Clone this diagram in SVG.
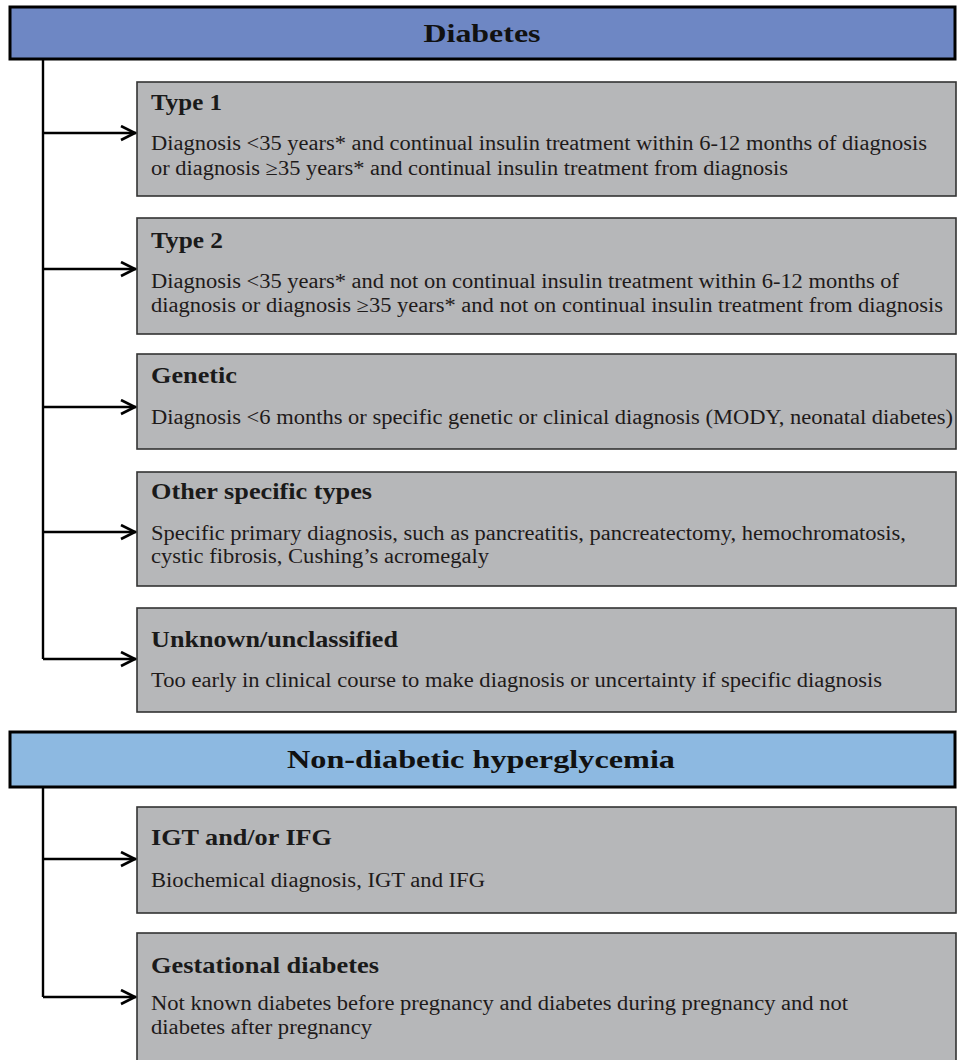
<svg xmlns="http://www.w3.org/2000/svg" width="958" height="1060" viewBox="0 0 958 1060">
<style>
.hdr{stroke:#000;stroke-width:3}
.box{fill:#b6b7b9;stroke:#333;stroke-width:1.6}
text{font-family:'Liberation Serif','Times New Roman',Tinos,Times,serif}
.ht{font-weight:bold;font-size:25px;fill:#111;text-anchor:middle}
.tt{font-weight:bold;font-size:23px;fill:#1a1a1a}
.bt{font-size:20px;fill:#1e1a1a}
.ln{fill:none;stroke:#000;stroke-width:2.4}
</style>
<defs>
<marker id="arr" markerUnits="userSpaceOnUse" markerWidth="20" markerHeight="20" refX="17" refY="8" orient="auto">
<path d="M2,1 L16,8 L2,15" fill="none" stroke="#000" stroke-width="2.6"/>
</marker>
</defs>
<rect width="958" height="1060" fill="#fff"/>
<g id="connectors">
<path class="ln" d="M43,60 V659"/>
<path class="ln" d="M43,133 H136" marker-end="url(#arr)"/>
<path class="ln" d="M43,269 H136" marker-end="url(#arr)"/>
<path class="ln" d="M43,407 H136" marker-end="url(#arr)"/>
<path class="ln" d="M43,532 H136" marker-end="url(#arr)"/>
<path class="ln" d="M43,659 H136" marker-end="url(#arr)"/>
<path class="ln" d="M43,788 V997"/>
<path class="ln" d="M43,859 H136" marker-end="url(#arr)"/>
<path class="ln" d="M43,997 H136" marker-end="url(#arr)"/>
</g>
<g id="diabetes">
<rect class="hdr" x="10" y="7" width="945" height="52" fill="#6e87c4"/>
<text class="ht" x="482" y="42" textLength="117" lengthAdjust="spacingAndGlyphs">Diabetes</text>
</g>
<g id="type1">
<rect class="box" x="137" y="82" width="819" height="114"/>
<text class="tt" x="151" y="110" textLength="71" lengthAdjust="spacingAndGlyphs">Type 1</text>
<text class="bt" x="151" y="150" textLength="776" lengthAdjust="spacingAndGlyphs">Diagnosis &lt;35 years* and continual insulin treatment within 6-12 months of diagnosis</text>
<text class="bt" x="151" y="175" textLength="637" lengthAdjust="spacingAndGlyphs">or diagnosis ≥35 years* and continual insulin treatment from diagnosis</text>
</g>
<g id="type2">
<rect class="box" x="137" y="218" width="819" height="116"/>
<text class="tt" x="151" y="248" textLength="72" lengthAdjust="spacingAndGlyphs">Type 2</text>
<text class="bt" x="151" y="288" textLength="748" lengthAdjust="spacingAndGlyphs">Diagnosis &lt;35 years* and not on continual insulin treatment within 6-12 months of</text>
<text class="bt" x="151" y="312" textLength="792" lengthAdjust="spacingAndGlyphs">diagnosis or diagnosis ≥35 years* and not on continual insulin treatment from diagnosis</text>
</g>
<g id="genetic">
<rect class="box" x="137" y="354" width="819" height="95"/>
<text class="tt" x="151" y="383" textLength="86" lengthAdjust="spacingAndGlyphs">Genetic</text>
<text class="bt" x="151" y="424" textLength="802" lengthAdjust="spacingAndGlyphs">Diagnosis &lt;6 months or specific genetic or clinical diagnosis (MODY, neonatal diabetes)</text>
</g>
<g id="other">
<rect class="box" x="137" y="472" width="819" height="114"/>
<text class="tt" x="151" y="499" textLength="221" lengthAdjust="spacingAndGlyphs">Other specific types</text>
<text class="bt" x="151" y="540" textLength="755" lengthAdjust="spacingAndGlyphs">Specific primary diagnosis, such as pancreatitis, pancreatectomy, hemochromatosis,</text>
<text class="bt" x="151" y="563" textLength="338" lengthAdjust="spacingAndGlyphs">cystic fibrosis, Cushing’s acromegaly</text>
</g>
<g id="unknown">
<rect class="box" x="137" y="608" width="819" height="104"/>
<text class="tt" x="151" y="647" textLength="247" lengthAdjust="spacingAndGlyphs">Unknown/unclassified</text>
<text class="bt" x="151" y="687" textLength="731" lengthAdjust="spacingAndGlyphs">Too early in clinical course to make diagnosis or uncertainty if specific diagnosis</text>
</g>
<g id="nondiabetic">
<rect class="hdr" x="10" y="732" width="945" height="55" fill="#8db9e1"/>
<text class="ht" x="481" y="768" textLength="388" lengthAdjust="spacingAndGlyphs">Non-diabetic hyperglycemia</text>
</g>
<g id="igt">
<rect class="box" x="137" y="807" width="819" height="106"/>
<text class="tt" x="151" y="845" textLength="181" lengthAdjust="spacingAndGlyphs">IGT and/or IFG</text>
<text class="bt" x="151" y="887" textLength="334" lengthAdjust="spacingAndGlyphs">Biochemical diagnosis, IGT and IFG</text>
</g>
<g id="gestational">
<rect class="box" x="137" y="933" width="819" height="140"/>
<text class="tt" x="151" y="973" textLength="228" lengthAdjust="spacingAndGlyphs">Gestational diabetes</text>
<text class="bt" x="151" y="1010" textLength="697" lengthAdjust="spacingAndGlyphs">Not known diabetes before pregnancy and diabetes during pregnancy and not</text>
<text class="bt" x="151" y="1034" textLength="221" lengthAdjust="spacingAndGlyphs">diabetes after pregnancy</text>
</g>
</svg>
